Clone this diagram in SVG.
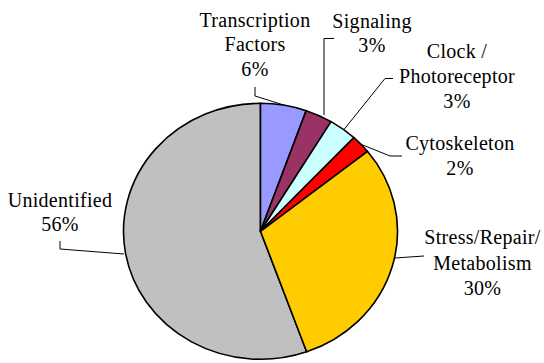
<svg xmlns="http://www.w3.org/2000/svg" width="544" height="363" viewBox="0 0 544 363">
<style>
.slice{stroke:#000;stroke-width:1.6;stroke-linejoin:round}
.lbl{font-size:20px;fill:#000;text-anchor:middle;letter-spacing:0.3px}
.lead{fill:none;stroke:#000;stroke-width:1}
</style>
<rect width="544" height="363" fill="#fff"/>
<g id="pie">
<g id="unidentified"><path class="slice" fill="#C0C0C0" d="M260.5,231.3 L306.68,351.81 A137,128 0 1,1 260.5,103.3 Z"/></g>
<g id="transcription"><path class="slice" fill="#9999FF" d="M260.5,231.3 L260.5,103.3 A137,128 0 0,1 306.2,110.65 Z"/></g>
<g id="signaling"><path class="slice" fill="#993366" d="M260.5,231.3 L306.2,110.65 A137,128 0 0,1 331.06,121.58 Z"/></g>
<g id="clock"><path class="slice" fill="#CCFFFF" d="M260.5,231.3 L331.06,121.58 A137,128 0 0,1 353.93,137.68 Z"/></g>
<g id="cytoskeleton"><path class="slice" fill="#FF0000" d="M260.5,231.3 L353.93,137.68 A137,128 0 0,1 367.57,151.44 Z"/></g>
<g id="stress"><path class="slice" fill="#FFCC00" d="M260.5,231.3 L367.57,151.44 A137,128 0 0,1 306.68,351.81 Z"/></g>
</g>
<g id="connectors">
<polyline class="lead" points="255,87 255,96 283.7,105"/>
<polyline class="lead" points="334,38.5 324,38.5 324,115"/>
<polyline class="lead" points="393,78.5 385,78.5 344,129.5"/>
<polyline class="lead" points="361,144.3 390,156 402,156"/>
<polyline class="lead" points="395,258 424,256"/>
<polyline class="lead" points="60,241 60,249 124,254"/>
</g>
<g font-family="Liberation Serif">
<g id="label-transcription"><text class="lbl" x="255" y="27">Transcription</text><text class="lbl" x="255" y="51">Factors</text><text class="lbl" x="255" y="76">6%</text></g>
<g id="label-signaling"><text class="lbl" x="372" y="28">Signaling</text><text class="lbl" x="372" y="52">3%</text></g>
<g id="label-clock"><text class="lbl" x="457" y="58">Clock /</text><text class="lbl" x="457" y="83">Photoreceptor</text><text class="lbl" x="457" y="108">3%</text></g>
<g id="label-cytoskeleton"><text class="lbl" x="460" y="150">Cytoskeleton</text><text class="lbl" x="460" y="175">2%</text></g>
<g id="label-stress"><text class="lbl" x="482.5" y="244">Stress/Repair/</text><text class="lbl" x="482.5" y="270">Metabolism</text><text class="lbl" x="482.5" y="295">30%</text></g>
<g id="label-unidentified"><text class="lbl" x="60" y="207">Unidentified</text><text class="lbl" x="60" y="231">56%</text></g>
</g>
</svg>
